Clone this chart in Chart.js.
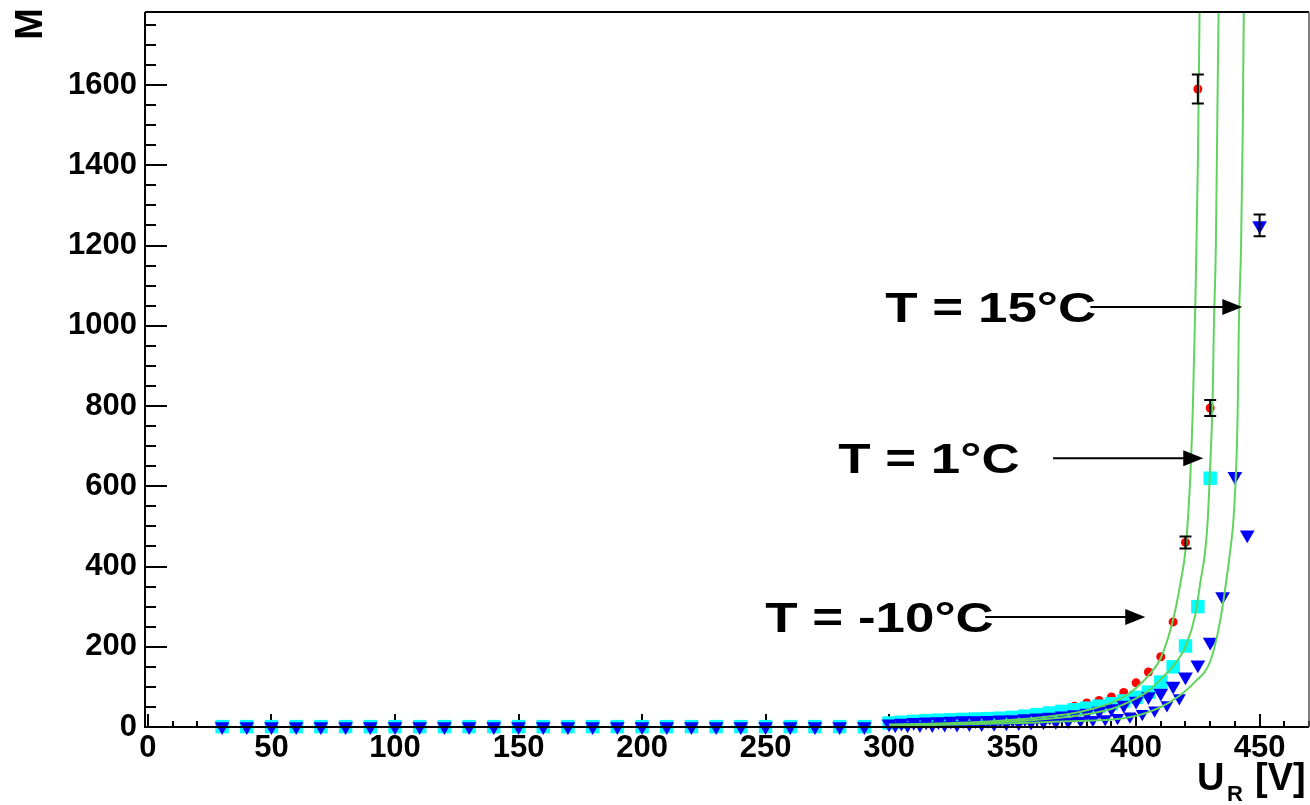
<!DOCTYPE html>
<html><head><meta charset="utf-8">
<script src="https://cdn.jsdelivr.net/npm/chart.js@4.4.1/dist/chart.umd.min.js"></script>
<style>html,body{margin:0;padding:0;background:#fff;}canvas{display:block;}</style>
</head><body>
<canvas id="c" width="1310" height="805"></canvas>
<script>
// ---- tick labels ----
const xTickValues = [0, 50, 100, 150, 200, 250, 300, 350, 400, 450];
const yTickValues = [0, 200, 400, 600, 800, 1000, 1200, 1400, 1600];

// ---- low-voltage points shared by all runs (M ~ 1) ----
const lowU = [30,40,50,60,70,80,90,100,110,120,130,140,150,160,170,180,190,200,210,220,230,240,250,260,270,280,290];
const lowM = [1,1,1,1,1,1,1,1,1,1,1,1,1,1,1,1,1,1,1,1,1,1,1,1,1,1,1];

// ---- T = -10 C (red) ----
const redU = [300,305,310,315,320,325,330,335,340,345,350,355,360,365,370,375,380,385,390,395,400,405,410,415,420,425,430];
const redM = [7,8,9,10,11,12,14,16,18,20,23,26,30,35,42,52,60,66,75,86,110,137,175,262,460,1590,795];

// ---- T = 1 C (cyan) ----
const cyanU = [300,305,310,315,320,325,330,335,340,345,350,355,360,365,370,375,380,385,390,395,400,405,410,415,420,425,430];
const cyanM = [10,12,14,16,17,18,19,20,21,22,24,27,31,35,39,43,47,52,58,65,74,87,112,150,202,300,620];

// ---- T = 15 C (blue, upper run) ----
const blueU = [300,305,310,315,320,325,330,335,340,345,350,355,360,365,370,375,380,385,390,395,400,405,410,415,420,425,430,435,440,445,450];
const blueM = [8,10,12,13,14,15,16,16,17,18,19,21,23,25,28,31,35,40,46,55,65,76,85,102,125,155,212,325,625,479,1250];

// ---- T = 15 C (blue, lower run) ----
const blue2U = [302.5,307.5,312.5,317.5,322.5,327.5,332.5,337.5,342.5,347.5,352.5,357.5,362.5,367.5,372.5,377.5,382.5,387.5,392.5,397.5,402.5,407.5,412.5,417.5];
const blue2M = [3,3,4,4,5,5,6,6,7,8,9,10,11,12,14,16,18,20,23,27,33,42,55,72];

// ---- fit curves ----
const fitColdU = [300,320,340,360,375,385,390,395,400,405,410,415,418,420,421,422,423,424,425,425.7];
const fitColdM = [6,9,14,23,35,50,60,75,97,128,172,268,360,440,520,630,800,1060,1400,1782];
const fitMidU  = [300,330,360,380,390,397,405,411,416,420,424,426,428,429,430,431,431.5,432.3,433,433.4];
const fitMidM  = [5,9,18,32,45,62,90,125,160,200,280,360,440,516,650,820,1000,1200,1580,1782];
const fitWarmU = [300,340,370,395,405,415,423.4,430.2,434.3,437.5,438.3,439.5,441.1,441.6,442.5,443.2,443.6];
const fitWarmM = [3,8,14,22,37,67,110,167,274,409,449,524,773,1000,1200,1496,1782];

// ---- error bars ----
const errRedU = [420, 425, 430];
const errRedM = [460, 1590, 795];
const errRedD = [15, 36, 20];
const errBlueU = [450];
const errBlueM = [1250];
const errBlueD = [27];

// ---- annotations ----
const annText = ['T = 15\u00B0C', 'T = 1\u00B0C', 'T = -10\u00B0C'];
const annTextU = [298.5, 279.4, 249.9];
const annM = [1047, 670, 274];
const annFromU = [381.5, 366.4, 338.9];
const annToU = [443.0, 427.2, 403.7];

const pts = (u, m) => u.map((v, i) => ({x: v, y: m[i]}));
const FONT = '"Liberation Sans", Arial, Helvetica, sans-serif';
const GREEN = 'rgb(95,212,95)';

const deco = {
  id: 'deco',
  beforeDatasetsDraw(chart) {
    const {ctx, chartArea: a, scales: {x, y}} = chart;
    ctx.save();
    ctx.strokeStyle = '#000';
    ctx.lineWidth = 2;
    const seg = (x1, y1, x2, y2) => { ctx.beginPath(); ctx.moveTo(x1, y1); ctx.lineTo(x2, y2); ctx.stroke(); };
    for (let v = 0; v <= x.max; v += 10) {
      const px = Math.round(x.getPixelForValue(v));
      seg(px, a.bottom, px, a.bottom - (v % 50 === 0 ? 13 : 6));
    }
    for (let v = 0; v <= y.max; v += 50) {
      const py = Math.round(y.getPixelForValue(v));
      seg(a.left, py, a.left + (v % 200 === 0 ? 22 : 11), py);
    }
    ctx.restore();
  },
  afterDatasetsDraw(chart) {
    const {ctx, chartArea: a, scales: {x, y}} = chart;
    const right = x.getPixelForValue(x.max);
    ctx.save();
    // frame
    ctx.strokeStyle = '#000';
    ctx.lineWidth = 2;
    ctx.beginPath();
    ctx.moveTo(a.left, a.top); ctx.lineTo(a.left, a.bottom); ctx.lineTo(right, a.bottom);
    ctx.moveTo(a.left, a.top); ctx.lineTo(right, a.top);
    ctx.stroke();
    ctx.strokeStyle = '#555'; ctx.lineWidth = 1.5;
    ctx.beginPath(); ctx.moveTo(right, a.top); ctx.lineTo(right, a.bottom); ctx.stroke();
    // error bars
    ctx.strokeStyle = '#000'; ctx.lineWidth = 2;
    const eb = (U, M, D) => U.forEach((u, i) => {
      const px = x.getPixelForValue(u), p1 = y.getPixelForValue(M[i] + D[i]), p2 = y.getPixelForValue(M[i] - D[i]);
      ctx.beginPath();
      ctx.moveTo(px, p1); ctx.lineTo(px, p2);
      ctx.moveTo(px - 6, p1); ctx.lineTo(px + 6, p1);
      ctx.moveTo(px - 6, p2); ctx.lineTo(px + 6, p2);
      ctx.stroke();
    });
    eb(errRedU, errRedM, errRedD);
    eb(errBlueU, errBlueM, errBlueD);
    // annotations
    ctx.fillStyle = '#000';
    annText.forEach((t, i) => {
      const py = y.getPixelForValue(annM[i]);
      const x0 = x.getPixelForValue(annFromU[i]), x1 = x.getPixelForValue(annToU[i]);
      ctx.lineWidth = 2;
      ctx.beginPath(); ctx.moveTo(x0, py); ctx.lineTo(x1 - 18, py); ctx.stroke();
      ctx.beginPath(); ctx.moveTo(x1, py); ctx.lineTo(x1 - 20, py - 8); ctx.lineTo(x1 - 20, py + 8); ctx.closePath(); ctx.fill();
      ctx.save();
      ctx.font = 'bold 42px ' + FONT;
      ctx.textBaseline = 'alphabetic';
      ctx.translate(x.getPixelForValue(annTextU[i]), py + 15);
      ctx.scale(1.26, 1);
      ctx.fillText(t, 0, 0);
      ctx.restore();
    });
    // axis titles
    ctx.fillStyle = '#000';
    ctx.textBaseline = 'alphabetic';
    ctx.font = 'bold 38px ' + FONT;
    ctx.fillText('U', right - 112, 790);
    ctx.font = 'bold 22px ' + FONT;
    ctx.fillText('R', right - 82, 801);
    ctx.font = 'bold 38px ' + FONT;
    ctx.fillText('[V]', right - 54, 790);
    ctx.save();
    ctx.translate(42, 8);
    ctx.rotate(-Math.PI / 2);
    ctx.textAlign = 'right';
    ctx.font = 'bold 38px ' + FONT;
    ctx.fillText('M', 0, 0);
    ctx.restore();
    ctx.restore();
  }
};

const curve = (u, m) => ({
  type: 'line', data: pts(u, m), showLine: true, borderColor: GREEN, borderWidth: 2,
  pointRadius: 0, fill: false, cubicInterpolationMode: 'monotone', order: 0
});

new Chart(document.getElementById('c'), {
  type: 'scatter',
  data: {
    datasets: [
      curve(fitColdU, fitColdM),
      curve(fitMidU, fitMidM),
      curve(fitWarmU, fitWarmM),
      { label: 'T = 15 C', data: pts(lowU.concat(blueU), lowM.concat(blueM)), pointStyle: 'triangle', rotation: 180,
        pointRadius: 8.5, backgroundColor: '#0000ff', borderColor: '#0000ff', borderWidth: 0, order: 1, clip: false },
      { label: 'T = 15 C b', data: pts(blue2U, blue2M), pointStyle: 'triangle', rotation: 180,
        pointRadius: 7.5, backgroundColor: '#0000ff', borderColor: '#0000ff', borderWidth: 0, order: 2, clip: false },
      { label: 'T = 1 C', data: pts(lowU.concat(cyanU), lowM.concat(cyanM)), pointStyle: 'rect',
        pointRadius: 9.5, backgroundColor: '#00ffff', borderColor: '#00ffff', borderWidth: 0, order: 3, clip: false },
      { label: 'T = -10 C', data: pts(lowU.concat(redU), lowM.concat(redM)), pointStyle: 'circle',
        pointRadius: 4.5, backgroundColor: '#ff0000', borderColor: '#ff0000', borderWidth: 0, order: 4, clip: false }
    ]
  },
  options: {
    responsive: false,
    animation: false,
    devicePixelRatio: 1,
    layout: { autoPadding: false, padding: { left: 0, top: 12, right: 1, bottom: 0 } },
    plugins: { legend: { display: false }, tooltip: { enabled: false } },
    scales: {
      x: {
        type: 'linear', min: -1.2, max: 470,
        afterBuildTicks: s => { s.ticks = xTickValues.map(v => ({value: v})); },
        afterFit: s => { s.height = 78; s.paddingLeft = 0; s.paddingRight = 0; },
        grid: { display: false, drawTicks: false },
        border: { display: false },
        ticks: { padding: 3, color: '#000', font: { family: FONT, size: 31, weight: 'bold' }, maxRotation: 0, autoSkip: false,
                 callback: v => String(v) }
      },
      y: {
        type: 'linear', min: 0, max: 1782,
        afterBuildTicks: s => { s.ticks = yTickValues.map(v => ({value: v})); },
        afterFit: s => { s.width = 145; s.paddingTop = 0; s.paddingBottom = 0; },
        grid: { display: false, drawTicks: false },
        border: { display: false },
        ticks: { padding: 8, color: '#000', font: { family: FONT, size: 31, weight: 'bold' }, autoSkip: false,
                 callback: v => String(v) }
      }
    }
  },
  plugins: [deco]
});
</script>
</body></html>
